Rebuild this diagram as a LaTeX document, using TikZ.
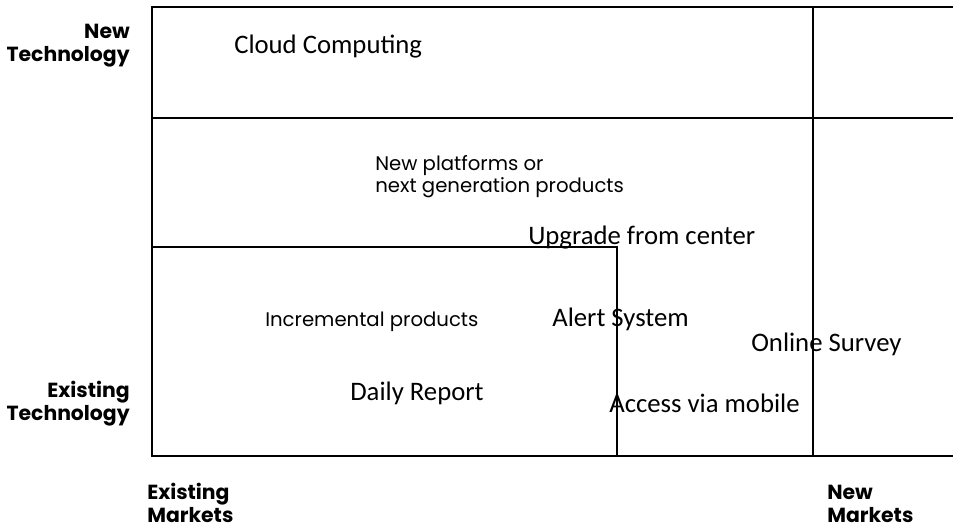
\documentclass[tikz,border=0pt]{standalone}
\usepackage{fontspec}
\setmainfont{Carlito}
\newfontfamily\gothicfont{Poppins}
\usetikzlibrary{positioning}

\begin{document}
\begin{tikzpicture}[x=0.025cm, y=-0.025cm,
    axislabel/.style={font=\gothicfont\bfseries\fontsize{14.5}{16}\selectfont, inner sep=0pt},
    note/.style={font=\gothicfont\fontsize{14}{15.6}\selectfont, inner sep=0pt, align=left, anchor=base west},
    item/.style={font=\fontsize{19}{22}\selectfont, inner sep=0pt, anchor=base west}]
    \useasboundingbox (0,0) rectangle (953,529);

    % grid of the matrix
    \draw [line width=0.9pt] (953,7) -- (152,7) -- (152,456) -- (953,456);
    \draw [line width=0.9pt] (152,118) -- (953,118);
    \draw [line width=0.9pt] (813,7) -- (813,456);
    \draw [line width=0.9pt] (152,247) -- (617,247) -- (617,456);

    % axis labels (base = last line)
    \node [axislabel, anchor=base east, align=right] (newtech) at (130,61) {New\\Technology};
    \node [axislabel, anchor=base east, align=right] (oldtech) at (130,420) {Existing\\Technology};
    \node [axislabel, anchor=base west, align=left] (oldmkt) at (147,522) {Existing\\Markets};
    \node [axislabel, anchor=base west, align=left] (newmkt) at (827,522) {New\\Markets};

    % zone notes
    \node [note] (platforms) at (375,192) {New platforms or\\next generation products};
    \node [note] (increment) at (265,326) {Incremental products};

    % items
    \node [item] (cloud) at (234,53) {Cloud Computing};
    \node [item] (upgrade) at (528,244) {Upgrade from center};
    \node [item] (alert) at (552,326) {Alert System};
    \node [item] (survey) at (751,351) {Online Survey};
    \node [item] (daily) at (350,400) {Daily Report};
    \node [item] (mobile) at (609,412) {Access via mobile};
\end{tikzpicture}
\end{document}
